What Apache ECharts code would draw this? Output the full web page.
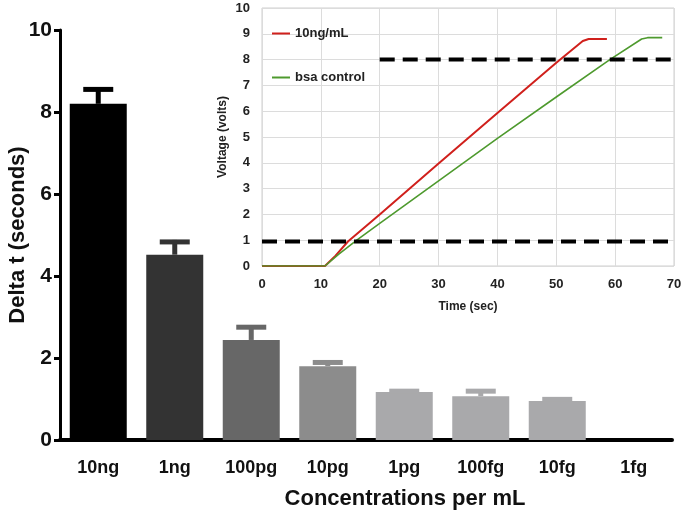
<!DOCTYPE html>
<html>
<head>
<meta charset="utf-8">
<script src="https://cdn.jsdelivr.net/npm/echarts@6/dist/echarts.min.js"></script>
<style>
  html, body { margin: 0; padding: 0; background: #fff; }
  #chart { width: 685px; height: 519px; }
</style>
</head>
<body>
<div id="chart"></div>
<script>
// main bar chart
const categories = ['10ng', '1ng', '100pg', '10pg', '1pg', '100fg', '10fg', '1fg']
const deltaT = [8.2, 4.52, 2.44, 1.8, 1.17, 1.07, 0.95, 0]
const deltaErr = [0.4, 0.36, 0.36, 0.14, 0.07, 0.17, 0.09, 0]
const barColors = ['#000000', '#333333', '#676767', '#8c8c8c', '#a9a9ab', '#a9a9ab', '#a9a9ab', '#a9a9ab']

// inset voltage traces [time, volts]
const redTrace = [[0, 0], [10.7, 0], [12.5, 0.4], [14.6, 0.95], [20, 2.0], [30, 3.97], [40, 5.93], [50, 7.88], [54.5, 8.72], [55.5, 8.8], [58.6, 8.8]]
const greenTrace = [[0, 0], [10.7, 0], [13, 0.45], [16.1, 1.0], [20, 1.65], [30, 3.3], [40, 4.95], [50, 6.55], [59.1, 8.0], [64.5, 8.8], [65.5, 8.85], [68, 8.85]]
const lowThreshold = [[0, 0.95], [70, 0.95]]
const highThreshold = [[20, 8], [70, 8]]

const bold = { fontFamily: 'Liberation Sans, Arial, sans-serif', fontWeight: 'bold' }

const chart = echarts.init(document.getElementById('chart'))

chart.setOption({
  animation: false,
  grid: [
    { left: 60, right: 13, top: 30, bottom: 79, outerBoundsMode: 'none' },
    { left: 262, right: 11, top: 8, bottom: 253, outerBoundsMode: 'none', show: true, borderColor: '#cfcfcf', borderWidth: 1 }
  ],
  legend: {
    orient: 'vertical',
    left: 267,
    top: 22,
    itemGap: 31,
    itemWidth: 18,
    itemHeight: 2,
    icon: 'rect',
    data: ['10ng/mL', 'bsa control'],
    textStyle: { ...bold, fontSize: 13, color: '#222' }
  },
  xAxis: [
    {
      type: 'category',
      gridIndex: 0,
      data: categories,
      axisLine: { lineStyle: { color: '#000', width: 4 } },
      axisTick: { alignWithLabel: true, length: 4, lineStyle: { color: '#000', width: 4 } },
      axisLabel: { ...bold, fontSize: 18, color: '#111', margin: 19 },
      name: 'Concentrations per mL',
      nameLocation: 'middle',
      nameGap: 48,
      nameTextStyle: { ...bold, fontSize: 22, color: '#111', padding: [0, 0, 0, 78] }
    },
    {
      type: 'value',
      gridIndex: 1,
      min: 0,
      max: 70,
      interval: 10,
      axisLine: { show: false },
      axisTick: { show: false },
      splitLine: { lineStyle: { color: '#dcdcdc' } },
      axisLabel: { ...bold, fontSize: 13, color: '#222', margin: 12 },
      name: 'Time (sec)',
      nameLocation: 'middle',
      nameGap: 35,
      nameTextStyle: { ...bold, fontSize: 12, color: '#222' }
    }
  ],
  yAxis: [
    {
      type: 'value',
      gridIndex: 0,
      min: 0,
      max: 10,
      interval: 2,
      axisLine: { show: true, lineStyle: { color: '#000', width: 3 } },
      axisTick: { show: true, length: 6, lineStyle: { color: '#000', width: 3 } },
      splitLine: { show: false },
      axisLabel: { ...bold, fontSize: 21, color: '#111', margin: 8 },
      name: 'Delta t (seconds)',
      nameLocation: 'middle',
      nameGap: 31,
      nameMoveOverlap: false,
      nameTextStyle: { ...bold, fontSize: 22, color: '#111' }
    },
    {
      type: 'value',
      gridIndex: 1,
      min: 0,
      max: 10,
      interval: 1,
      axisLine: { show: false },
      axisTick: { show: false },
      splitLine: { lineStyle: { color: '#dcdcdc' } },
      axisLabel: { ...bold, fontSize: 13, color: '#222', margin: 12 },
      name: 'Voltage (volts)',
      nameLocation: 'middle',
      nameGap: 33,
      nameMoveOverlap: false,
      nameTextStyle: { ...bold, fontSize: 12, color: '#222' }
    }
  ],
  series: [
    {
      type: 'bar',
      xAxisIndex: 0,
      yAxisIndex: 0,
      barWidth: 57,
      data: deltaT.map((v, i) => ({ value: v, itemStyle: { color: barColors[i] } }))
    },
    {
      type: 'custom',
      xAxisIndex: 0,
      yAxisIndex: 0,
      data: deltaT.map((v, i) => [i, v, deltaErr[i]]),
      renderItem: (params, api) => {
        const i = api.value(0)
        const err = api.value(2)
        if (!err) return null
        const base = api.coord([i, api.value(1)])
        const top = api.coord([i, api.value(1) + err])
        const color = barColors[i]
        const half = 15
        return {
          type: 'group',
          children: [
            { type: 'line', shape: { x1: base[0], y1: base[1], x2: top[0], y2: top[1] }, style: { stroke: color, lineWidth: 5 } },
            { type: 'line', shape: { x1: top[0] - half, y1: top[1] + 2, x2: top[0] + half, y2: top[1] + 2 }, style: { stroke: color, lineWidth: 5 } }
          ]
        }
      },
      z: 3
    },
    {
      name: '10ng/mL',
      type: 'line',
      xAxisIndex: 1,
      yAxisIndex: 1,
      data: redTrace,
      showSymbol: false,
      color: '#d0201c',
      lineStyle: { width: 2 }
    },
    {
      name: 'bsa control',
      type: 'line',
      xAxisIndex: 1,
      yAxisIndex: 1,
      data: greenTrace,
      showSymbol: false,
      color: '#4e9a2e',
      lineStyle: { width: 1.6 }
    },
    {
      type: 'line',
      xAxisIndex: 1,
      yAxisIndex: 1,
      data: lowThreshold,
      showSymbol: false,
      lineStyle: { color: '#000', width: 4, type: [15, 8] },
      z: 4
    },
    {
      type: 'line',
      xAxisIndex: 1,
      yAxisIndex: 1,
      data: highThreshold,
      showSymbol: false,
      lineStyle: { color: '#000', width: 4, type: [15, 8] },
      z: 4
    }
  ]
})
</script>
</body>
</html>
